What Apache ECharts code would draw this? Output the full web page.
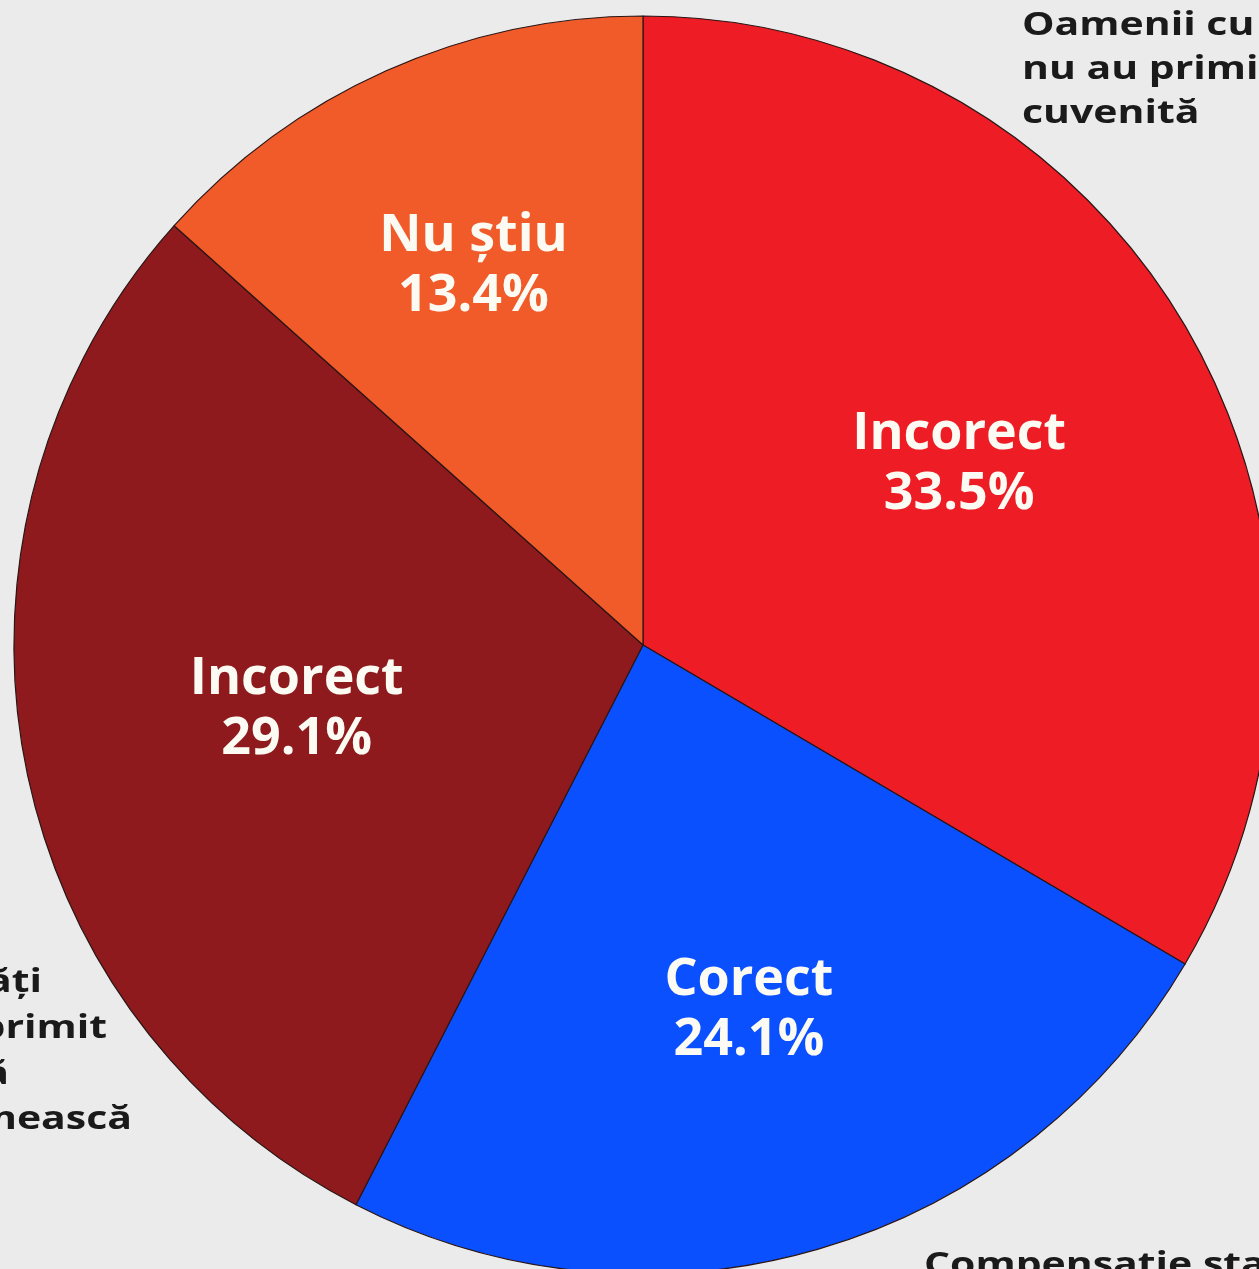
<!DOCTYPE html>
<html>
<head>
<meta charset="utf-8">
<script src="https://cdn.jsdelivr.net/npm/echarts@6/dist/echarts.min.js"></script>
<style>
html,body{margin:0;padding:0;background:#ebebeb;}
#c{width:1259px;height:1269px;}
</style>
</head>
<body>
<div id="c"></div>
<script>
const categories = ['Incorect', 'Corect', 'Incorect', 'Nu știu'];
const values = [33.5, 24.1, 29.1, 13.4];
const sliceColors = ['#ee1c25', '#0a50ff', '#8e1a1d', '#f15a29'];
const labelRadial = [0.579, 0.604, 0.56, 0.66];

const CX = 643, CY = 645, R = 629;
const total = values.reduce((a, b) => a + b, 0);
const midAngles = [];
let acc = 0;
values.forEach(v => { midAngles.push((acc + v / 2) / total * 2 * Math.PI); acc += v; });

const chart = echarts.init(document.getElementById('c'), null, {renderer: 'canvas'});
function note(text, x, y, align) {
  return {
    type: 'text', x: x, y: y, scaleX: 1.28,
    style: {
      text: text, textAlign: align || 'left', textVerticalAlign: 'top',
      fontFamily: 'Open Sans', fontWeight: 'bold', fontSize: 32, lineHeight: 44, fill: '#1a1a1a'
    }
  };
}
chart.setOption({
  backgroundColor: '#ebebeb',
  animation: false,
  series: [{
    type: 'pie',
    center: [CX, CY],
    radius: R,
    startAngle: 90,
    clockwise: true,
    itemStyle: {borderColor: '#2a1515', borderWidth: 1.2},
    label: {
      show: true,
      position: 'inside',
      formatter: p => p.name + '\n' + p.value.toFixed(1) + '%',
      color: '#fbfbf4',
      fontFamily: 'Open Sans',
      fontWeight: 'bold',
      fontSize: 52,
      lineHeight: 60
    },
    labelLine: {show: false},
    labelLayout: function (params) {
      const i = params.dataIndex;
      const a = midAngles[i];
      const d = labelRadial[i] * R;
      return {x: CX + d * Math.sin(a), y: CY - d * Math.cos(a), align: 'center', verticalAlign: 'middle'};
    },
    data: categories.map((c, i) => ({name: c, value: values[i], itemStyle: {color: sliceColors[i]}}))
  }],
  graphic: [
    note('Oamenii cu dizabilități\nnu au primit compensația\ncuvenită', 1022, 4),
    note('Persoanele cu dizabilități', 42, 961, 'right'),
    note('care au primit', 107, 1007, 'right'),
    note('compensația cuvenită', 9, 1053, 'right'),
    note('dar trebuiau să o primească', 132, 1098, 'right'),
    note('Compensație stabilită', 924, 1244)
  ]
});
</script>
</body>
</html>
